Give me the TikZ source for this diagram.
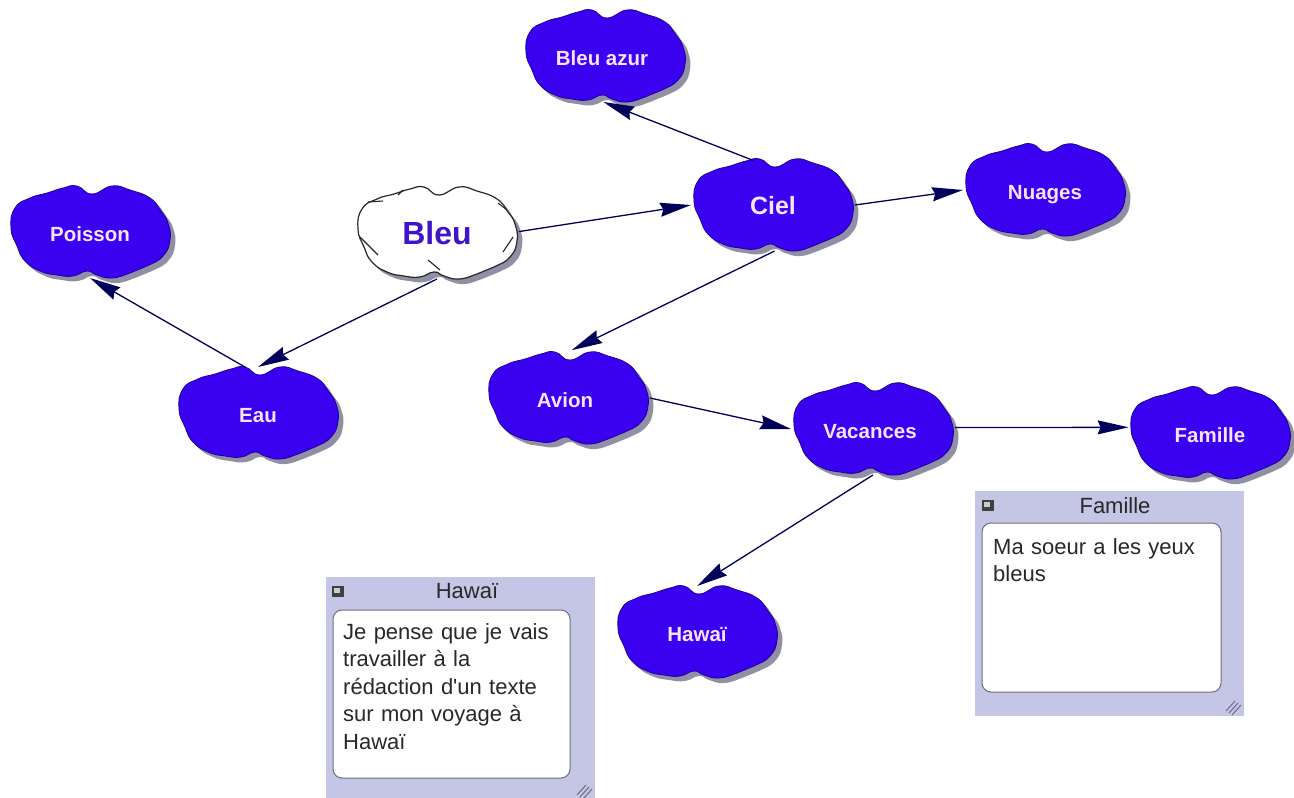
\documentclass[tikz,border=0pt]{standalone}
\usepackage{fontspec}
\setmainfont{Liberation Sans}
\newfontfamily\notefont{Liberation Sans}
\usetikzlibrary{arrows.meta,shapes.geometric}
\definecolor{cloudblue}{RGB}{58,0,240}
\definecolor{cloudedge}{RGB}{30,0,150}
\definecolor{cloudshadow}{RGB}{145,143,165}
\definecolor{cloudtext}{RGB}{250,225,250}
\definecolor{titleblue}{RGB}{64,20,200}
\definecolor{linknavy}{RGB}{0,0,90}
\definecolor{panelbg}{RGB}{197,197,229}
\definecolor{paneledge}{RGB}{110,110,125}
\definecolor{paneltext}{RGB}{40,40,40}
\def\cloudshape{plot[smooth cycle,tension=.85] coordinates{(2,-38)(22,-46)(40,-42)(60,-34)(71,-21)(78,-9)(80,8)(73,24)(57,34)(40,41)(22,46)(7,43)(-3,39)(-17,44)(-33,43)(-50,39)(-65,29)(-73,14)(-79,-4)(-75,-24)(-60,-34)(-43,-39)(-27,-44)(-13,-46)}}
\tikzset{
  cloudnode/.style={ellipse,minimum width=164pt,minimum height=92pt,inner sep=0pt,outer sep=0pt,text=cloudtext,text height=18pt,text depth=0pt,font=\fontsize{20.5}{24}\selectfont\bfseries},
  link/.style={draw=linknavy,line width=1.3pt,-{Stealth[length=31pt,width=14pt,inset=3pt,fill=linknavy]}},
  panelbox/.style={fill=panelbg,draw=none},
  notebox/.style={fill=white,draw=paneledge,line width=1pt,rounded corners=9pt},
  paneltitle/.style={font=\fontsize{22}{26}\selectfont,text=paneltext,inner sep=0pt},
  notetext/.style={font=\notefont\fontsize{22}{27.5}\selectfont,text=paneltext,align=left,anchor=north west,inner sep=0pt,text width=225pt},
  grip/.style={draw=paneledge,line width=1pt},
  creases/.style={draw=black!85,line width=1.1pt},
}
\newcommand{\bluecloud}[4]{%
  \begin{scope}[shift={(#2,#3)}]
    \fill[cloudshadow,shift={(5,5)}] \cloudshape;
    \fill[cloudblue,draw=cloudedge,line width=.8pt] \cloudshape;
  \end{scope}
  \node[cloudnode] (#1) at (#2,#3) {#4};}
\newcommand{\panelicon}[2]{%
  \fill[black!75] (#1-6,#2-5) rectangle (#1+6,#2+6);
  \fill[black!20] (#1-4,#2-3) rectangle (#1+2,#2+2);}
\newcommand{\panelgrip}[2]{%
  \draw[grip] (#1-8,#2+5) -- (#1+1,#2-5) (#1-5,#2+7) -- (#1+4,#2-3) (#1-2,#2+9) -- (#1+7,#2-1);}
\begin{document}
\begin{tikzpicture}[x=1pt,y=-1pt]
\useasboundingbox (0,0) rectangle (1294,798);
\fill[white] (0,0) rectangle (1294,798);
% clouds
\bluecloud{azur}{605}{56}{\kern-6pt Bleu azur}
\bluecloud{ciel}{773}{205}{\fontsize{25}{28}\selectfont Ciel}
\bluecloud{nuages}{1045}{190}{Nuages}
\bluecloud{poisson}{90}{232}{Poisson}
\bluecloud{eau}{258}{413}{Eau}
\bluecloud{avion}{568}{398}{\kern-6pt Avion}
\bluecloud{vacances}{873}{429}{\kern-6pt Vacances}
\bluecloud{famille}{1210}{433}{Famille}
\bluecloud{hawai}{697}{632}{Hawaï}
\begin{scope}[shift={(437,233)}]
  \fill[cloudshadow,shift={(5,5)}] \cloudshape;
  \fill[white,draw=black!85,line width=1.2pt] \cloudshape;
\end{scope}
\draw[creases] (368,202) -- (383,201) (398,195) -- (403,190) (498,203) -- (507,210)
  (503,252) -- (513,237) (428,260) -- (440,270) (360,237) -- (378,255);
\node[cloudnode,text=titleblue,text height=23pt,font=\fontsize{32}{36}\selectfont\bfseries] (bleu) at (437,233) {Bleu};
% connectors
\draw[link] (bleu.1) -- (ciel.180);
\draw[link] (ciel.114) -- (azur.268);
\draw[link] (ciel.0) -- (nuages.180);
\draw[link,shorten >=4pt] (ciel.272) -- (avion.90);
\draw[link] (bleu.270) -- (eau.90);
\draw[link] (eau.105) -- (poisson.270);
\draw[link] (avion.0) -- (vacances.180);
\draw[link] (vacances.1) -- (famille.176);
\draw[link] (vacances.270) -- (hawai.90);
% note Hawai
\fill[panelbox] (326,577) rectangle (595,798);
\draw[notebox] (333,610) rectangle (570,778);
\node[paneltitle] (hawaititle) at (467,591) {Hawaï};
\node[notetext] (hawainote) at (343,623) {Je pense que je vais\\travailler à la\\rédaction d'un texte\\sur mon voyage à\\Hawaï};
\panelicon{338}{591}
\panelgrip{585}{790}
% note Famille
\fill[panelbox] (975,491) rectangle (1244,716);
\draw[notebox] (982,523) rectangle (1221,692);
\node[paneltitle] (familletitle) at (1115,506) {Famille};
\node[notetext] (famillenote) at (993,538) {Ma soeur a les yeux\\bleus};
\panelicon{988}{505}
\panelgrip{1234}{706}
\end{tikzpicture}
\end{document}
